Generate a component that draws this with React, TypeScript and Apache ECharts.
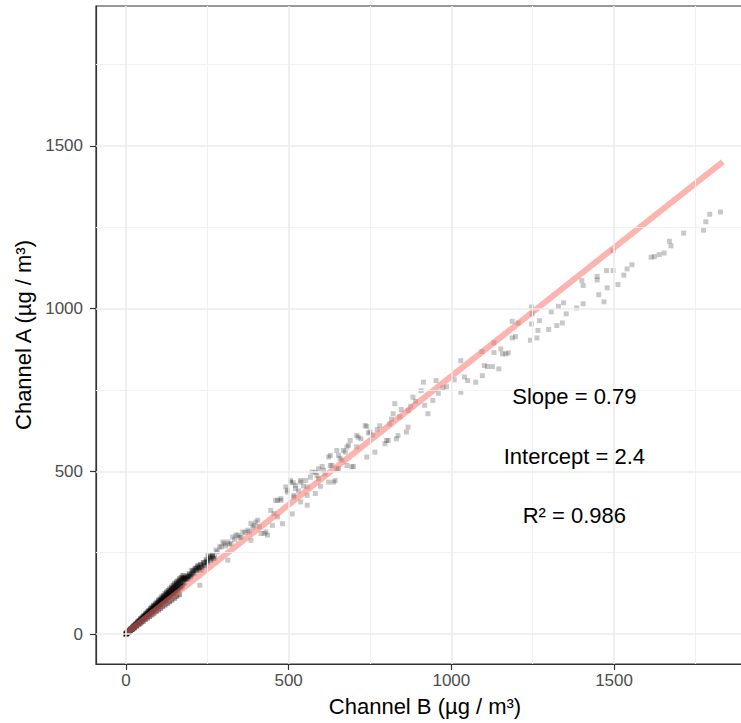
import React, { useEffect, useRef } from "react";
import * as echarts from "echarts";

// ---- data ----
const majorTicks = [0, 500, 1000, 1500];
const minorTicks = [250, 750, 1250, 1750];
const axisMin = -92;
const axisMax = 1930;

const slope = 0.79;
const intercept = 2.4;
const rSquared = 0.986;
const fitRange = [0, 1834];

// dense band of observations near the origin [Channel B, Channel A]
const densePoints: number[][] = [
  [0, 0], [0, 1], [1, 0], [1, 1], [1, 2], [2, 2], [3, 4], [4, 3], [5, 5], [6, 6], [7, 6], [8, 8], [9, 8], [10, 10],
  [12, 11], [13, 13], [15, 14], [16, 16], [18, 17], [20, 19], [22, 22], [24, 22], [26, 25], [28, 27], [30, 29],
  [32, 31], [35, 33], [37, 36], [40, 38], [42, 41], [45, 43], [47, 46], [50, 48], [53, 50], [55, 54], [58, 55],
  [60, 58], [63, 61], [65, 63], [68, 64], [70, 68], [73, 70], [75, 73], [78, 74], [80, 78], [83, 80], [86, 83],
  [88, 85], [91, 88], [94, 90], [97, 94], [100, 96], [103, 99], [106, 103], [109, 104], [112, 108], [115, 111],
  [118, 113], [121, 117], [124, 120], [127, 122], [130, 126], [133, 128], [136, 131], [140, 135], [143, 138],
  [146, 141], [150, 145], [153, 147], [156, 151], [160, 154], [163, 158], [167, 160], [170, 165], [174, 168],
  [177, 171], [180, 174],
  [2, 1], [4, 4], [6, 5], [9, 7], [11, 9], [14, 12], [17, 14], [19, 16], [23, 19], [25, 21], [27, 23], [31, 26],
  [34, 28], [38, 32], [41, 34], [44, 37], [48, 40], [51, 43], [54, 45], [57, 48], [61, 51], [64, 54], [67, 56],
  [71, 60], [74, 62], [77, 65], [81, 68], [84, 71], [87, 73], [92, 77], [95, 80], [99, 84], [102, 86], [107, 90],
  [110, 93], [114, 96], [119, 100], [122, 103], [126, 107], [131, 111], [135, 114], [139, 117], [144, 122],
  [148, 125], [152, 129], [158, 134], [162, 137], [168, 142], [173, 147],
  [3, 3], [5, 4], [8, 7], [11, 10], [14, 13], [17, 15], [21, 18], [24, 21], [29, 26], [33, 29], [36, 32], [39, 34],
  [43, 38], [46, 40], [49, 43], [52, 46], [56, 49], [59, 52], [62, 55], [66, 58], [69, 61], [72, 63], [76, 67],
  [79, 70], [82, 72], [85, 75], [89, 78], [93, 82], [96, 85], [101, 89], [105, 92], [108, 95], [113, 100],
  [117, 103], [120, 106], [125, 110], [129, 113], [134, 118], [138, 121], [142, 125], [147, 129], [151, 133],
  [155, 136], [159, 140], [164, 144], [169, 149], [175, 154], [179, 158],
  [5, 6], [10, 11], [15, 16], [20, 21], [25, 26], [30, 31], [35, 37], [40, 41], [45, 47], [50, 52], [55, 57],
  [60, 62], [65, 68], [70, 72], [75, 78], [80, 83], [85, 88], [90, 93], [95, 98], [100, 104], [105, 108],
  [110, 114], [115, 118], [120, 124], [125, 129], [130, 134], [135, 139], [140, 144], [145, 150], [150, 155],
  [155, 160], [160, 164], [165, 170], [170, 174], [175, 180],
  [7, 5], [13, 10], [20, 15], [26, 19], [33, 24], [40, 30], [46, 34], [53, 39], [60, 45], [66, 49], [73, 54],
  [80, 59], [86, 64], [93, 69], [100, 74], [106, 79], [113, 84], [120, 89], [127, 94], [134, 99], [141, 104],
  [149, 110], [156, 116], [164, 121],
  [182, 170], [185, 168], [189, 178], [191, 170], [195, 185], [198, 176], [202, 182], [205, 194], [209, 187],
  [213, 202], [217, 195], [221, 210], [225, 199], [229, 214], [233, 205], [238, 220], [242, 210], [247, 228],
  [251, 221], [256, 236], [261, 227], [266, 240], [270, 232],
];

// sparser observations at higher concentrations [Channel B, Channel A]
const sparsePoints: number[][] = [
  [184, 176], [188, 173], [192, 181], [196, 178], [201, 196], [204, 188], [208, 195], [212, 199], [216, 203],
  [220, 206], [224, 204], [227, 150], [227, 206], [232, 196], [237, 212], [241, 218], [246, 223], [252, 242],
  [256, 233], [260, 238], [266, 244], [272, 237], [277, 258], [281, 253], [288, 268], [293, 268], [298, 283],
  [302, 278], [306, 271], [313, 283], [313, 227], [318, 276], [323, 278], [328, 298], [334, 291], [338, 304],
  [344, 304], [350, 297], [354, 298], [359, 314], [366, 312], [374, 319], [379, 314], [384, 340], [384, 288],
  [390, 328], [394, 334], [399, 344], [405, 350], [410, 330], [415, 309], [425, 309], [430, 314], [435, 304],
  [445, 380], [450, 334], [455, 370], [460, 411], [466, 360], [466, 411], [476, 411], [476, 416], [481, 339],
  [491, 452], [496, 436], [496, 442], [506, 467], [506, 472], [511, 369], [514, 465], [516, 421], [516, 426],
  [521, 457], [521, 447], [530, 440], [537, 467], [537, 406], [537, 472], [545, 455], [552, 472], [557, 452],
  [557, 426], [557, 396], [567, 482], [572, 498], [582, 432], [582, 497], [587, 487], [592, 477], [592, 508],
  [598, 454], [603, 515], [607, 503], [612, 492], [623, 544], [623, 467], [628, 518], [628, 549], [633, 518],
  [638, 467], [643, 472], [648, 564], [648, 508], [653, 549], [653, 508], [658, 540], [664, 534], [668, 564],
  [674, 559], [679, 575], [679, 518], [684, 580], [689, 595], [694, 514], [699, 515], [709, 575], [709, 610],
  [714, 605], [722, 600], [735, 641], [740, 544], [740, 638], [745, 618], [750, 621], [758, 612], [765, 559],
  [772, 628], [780, 640], [796, 585], [801, 595], [806, 595], [811, 646], [816, 660], [821, 677], [826, 708],
  [831, 600], [836, 610], [841, 667], [846, 690], [862, 621], [867, 636], [867, 687], [875, 700], [882, 728],
  [890, 715], [907, 748], [914, 774], [918, 703], [928, 677], [943, 718], [953, 779], [960, 740], [974, 757],
  [985, 760], [1009, 781], [1029, 743], [1029, 840], [1040, 790], [1050, 779], [1075, 774], [1094, 868],
  [1095, 794], [1101, 825], [1111, 822], [1126, 822], [1131, 895], [1131, 865], [1146, 815], [1152, 876],
  [1157, 861], [1167, 861], [1175, 864], [1187, 961], [1187, 910], [1197, 914], [1205, 956], [1243, 903],
  [1246, 953], [1246, 1005], [1248, 984], [1263, 910], [1266, 933], [1271, 963], [1299, 936], [1307, 990],
  [1324, 948], [1329, 1007], [1341, 956], [1345, 1018], [1353, 984], [1385, 1002], [1401, 1086], [1405, 1071],
  [1405, 1015], [1448, 1088], [1448, 1099], [1453, 1043], [1469, 1021], [1477, 1117], [1479, 1064], [1497, 1117],
  [1497, 1178], [1512, 1074], [1530, 1103], [1540, 1122], [1555, 1135], [1614, 1158], [1624, 1160], [1639, 1166],
  [1654, 1171], [1670, 1207], [1675, 1193], [1714, 1232], [1775, 1241], [1782, 1267], [1794, 1290], [1827, 1297],
];

const annotationX = 1378;
const annotationY = [730, 546, 365];
const annotationTexts = [`Slope = ${slope}`, `Intercept = ${intercept}`, `R² = ${rSquared}`];

const FONT = "'Liberation Sans', Arial, Helvetica, sans-serif";

export default function App() {
  const ref = useRef<HTMLDivElement>(null);

  useEffect(() => {
    if (!ref.current) return;
    const chart = echarts.init(ref.current, undefined, { renderer: "svg" });

    const majorStyle = { color: "#ebebeb", width: 1.6, type: "solid" as const };
    const minorStyle = { color: "#f1f1f1", width: 1, type: "solid" as const };

    const gridLines = [
      ...minorTicks.map((v) => ({ xAxis: v, lineStyle: minorStyle })),
      ...minorTicks.map((v) => ({ yAxis: v, lineStyle: minorStyle })),
      ...majorTicks.map((v) => ({ xAxis: v, lineStyle: majorStyle })),
      ...majorTicks.map((v) => ({ yAxis: v, lineStyle: majorStyle })),
    ];

    const fitLine = fitRange.map((x) => [x, intercept + slope * x]);

    const axisCommon = {
      type: "value" as const,
      min: axisMin,
      max: axisMax,
      splitLine: { show: false },
      axisLine: { show: true, onZero: false, lineStyle: { color: "#333333", width: 1.2 } },
      axisTick: { show: true, customValues: majorTicks, length: 6, lineStyle: { color: "#333333", width: 1.2 } },
      nameLocation: "middle" as const,
      nameTextStyle: { fontSize: 22, color: "#000000", fontFamily: FONT },
    };

    const labelCommon = {
      customValues: majorTicks,
      color: "#4d4d4d",
      fontSize: 17,
      fontFamily: FONT,
      formatter: (v: number) => String(v),
    };

    chart.setOption({
      animation: false,
      backgroundColor: "#ffffff",
      grid: {
        left: 96,
        top: 6,
        width: 658,
        height: 658,
        show: true,
        borderColor: "#333333",
        borderWidth: 1.2,
        backgroundColor: "transparent",
        containLabel: false,
        outerBoundsMode: "none",
      },
      xAxis: {
        ...axisCommon,
        name: "Channel B (µg / m³)",
        nameGap: 31,
        axisLabel: { ...labelCommon, margin: 8 },
      },
      yAxis: {
        ...axisCommon,
        name: "Channel A (µg / m³)",
        nameGap: 46,
        axisLabel: { ...labelCommon, margin: 13 },
      },
      series: [
        {
          type: "line",
          data: [],
          z: 1,
          silent: true,
          markLine: {
            silent: true,
            symbol: ["none", "none"],
            label: { show: false },
            emphasis: { disabled: true },
            data: gridLines,
          },
        },
        {
          name: "sparse",
          type: "scatter",
          z: 2,
          symbol: "rect",
          symbolSize: 5,
          itemStyle: { color: "rgba(0,0,0,0.27)" },
          data: sparsePoints,
        },
        {
          name: "dense",
          type: "scatter",
          z: 2,
          symbol: "rect",
          symbolSize: 5,
          itemStyle: { color: "rgba(0,0,0,0.5)" },
          data: densePoints,
        },
        {
          name: "fit",
          type: "line",
          z: 3,
          showSymbol: false,
          symbol: "none",
          lineStyle: { color: "#F8766D", width: 6, opacity: 0.55, cap: "butt" },
          data: fitLine,
        },
      ],
    });

    const graphics = annotationTexts.map((t, i) => {
      const p = chart.convertToPixel({ gridIndex: 0 }, [annotationX, annotationY[i]]) as number[];
      return {
        type: "text",
        x: p[0],
        y: p[1],
        z: 10,
        style: {
          text: t,
          fontSize: 22,
          fontFamily: FONT,
          fill: "#000000",
          align: "center",
          verticalAlign: "middle",
        },
      };
    });
    chart.setOption({ graphic: graphics });

    return () => chart.dispose();
  }, []);

  return (
    <div
      ref={ref}
      style={{ position: "absolute", left: 0, top: 0, width: 741, height: 723 }}
    />
  );
}
